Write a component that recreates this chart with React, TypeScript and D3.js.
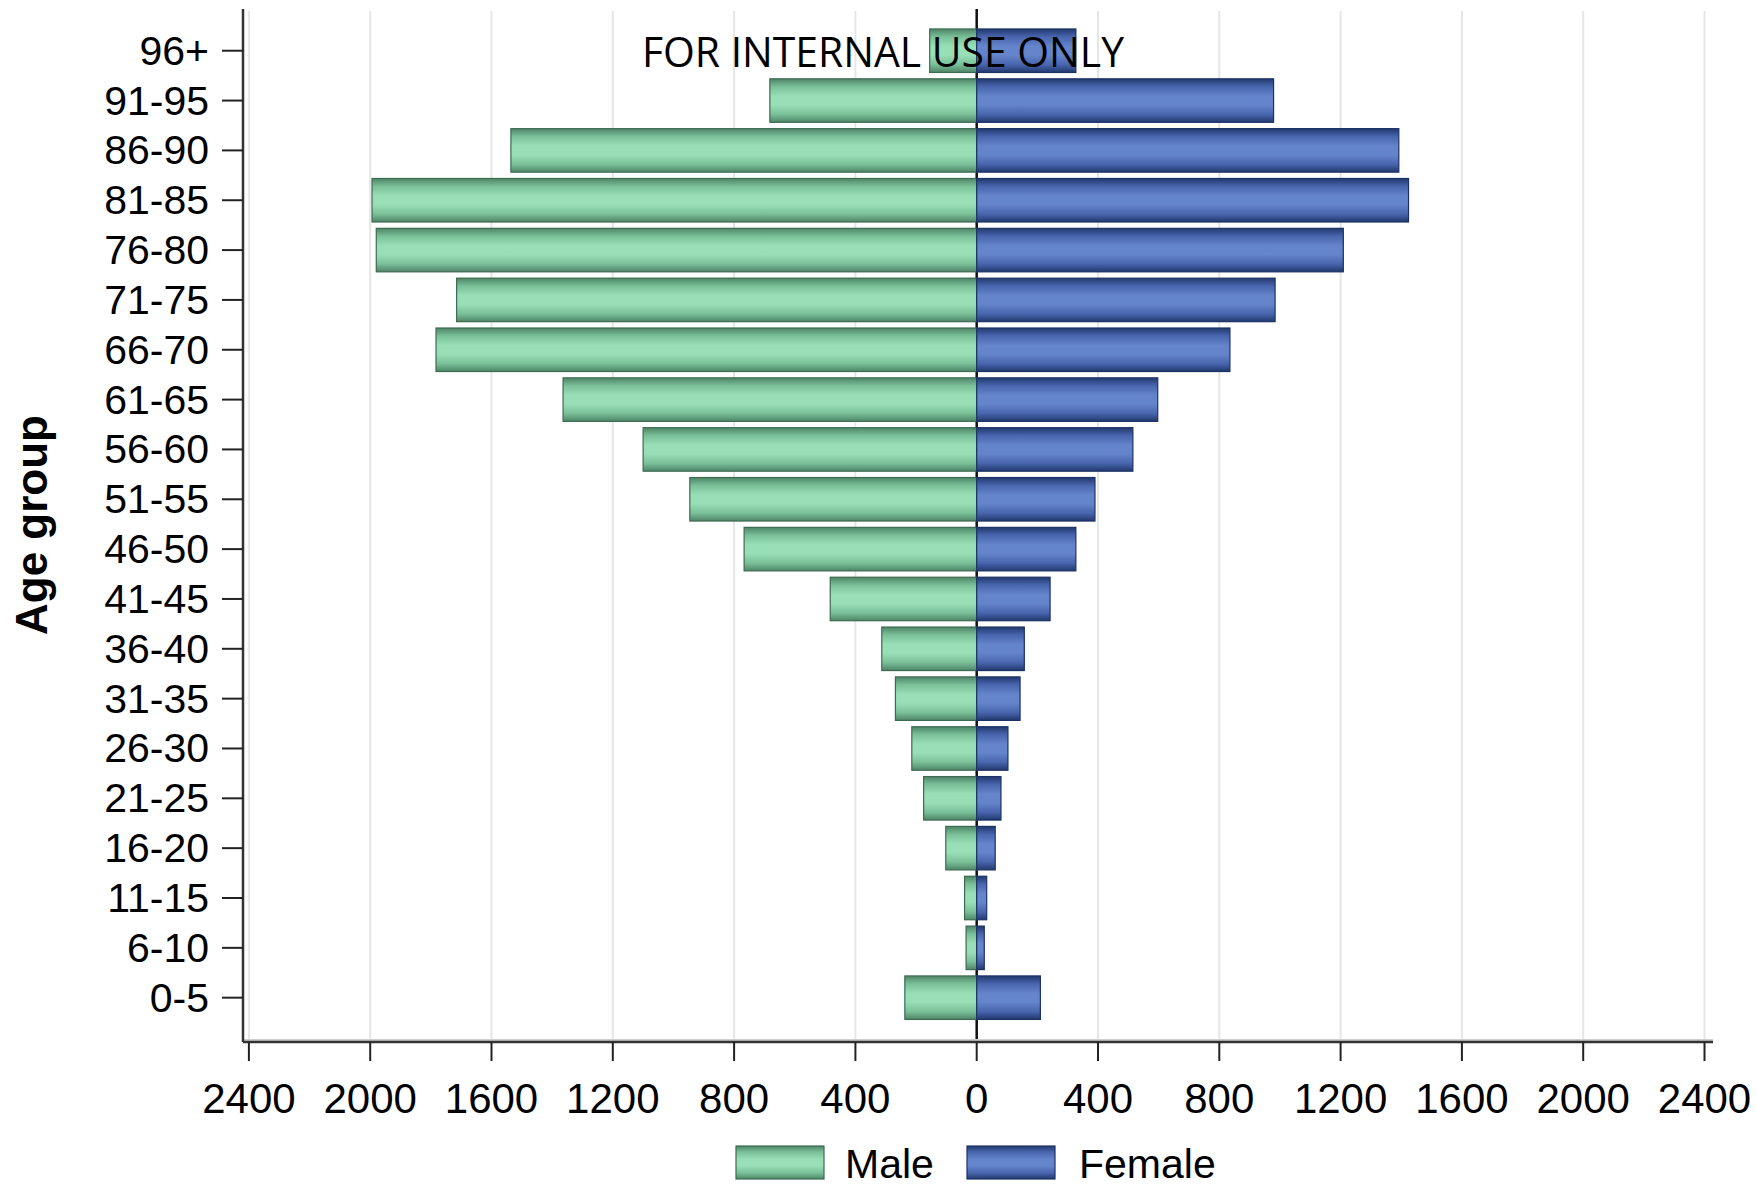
import React from "react";
import * as d3 from "d3";

const ageGroups = ["0-5","6-10","11-15","16-20","21-25","26-30","31-35","36-40","41-45","46-50","51-55","56-60","61-65","66-70","71-75","76-80","81-85","86-90","91-95","96+"];
const maleValues = [237,35,40,102,175,214,268,313,483,767,946,1100,1364,1783,1715,1980,1994,1536,682,155];
const femaleValues = [210,25,33,61,80,103,143,157,242,327,390,515,597,835,984,1209,1424,1392,979,327];
const xTickValues = [-2400,-2000,-1600,-1200,-800,-400,0,400,800,1200,1600,2000,2400];
const seriesNames = ["Male","Female"];
const yTitle = "Age group";
const watermark = "FOR INTERNAL USE ONLY";

const W = 1757, H = 1187;
const plotLeft = 243, plotRight = 1713, plotTop = 9, plotBottom = 1042;
const FONT = "'Liberation Sans', Arial, Helvetica, sans-serif";

export default function App() {
  const x = d3.scaleLinear().domain([-2400, 2400]).range([248.9, 1704.5]);
  const y = d3.scaleBand<string>()
    .domain([...ageGroups].reverse())
    .range([25.8, 1022.6])
    .paddingInner(0.127)
    .paddingOuter(0.0635);
  const bw = y.bandwidth();
  const x0 = x(0);

  return (
    <svg width={W} height={H} style={{ position: "absolute", left: 0, top: 0, display: "block", background: "#fff" }}>
      <defs>
        <linearGradient id="gMale" x1="0" y1="0" x2="0" y2="1">
          <stop offset="0%" stopColor="#4e8567" />
          <stop offset="18%" stopColor="#79bf98" />
          <stop offset="40%" stopColor="#98dfb8" />
          <stop offset="60%" stopColor="#98dfb8" />
          <stop offset="82%" stopColor="#79bf98" />
          <stop offset="100%" stopColor="#4e8567" />
        </linearGradient>
        <linearGradient id="gFemale" x1="0" y1="0" x2="0" y2="1">
          <stop offset="0%" stopColor="#22396e" />
          <stop offset="18%" stopColor="#4865ad" />
          <stop offset="40%" stopColor="#6484cc" />
          <stop offset="60%" stopColor="#6484cc" />
          <stop offset="82%" stopColor="#4865ad" />
          <stop offset="100%" stopColor="#22396e" />
        </linearGradient>
      </defs>

      {xTickValues.map((v) => (
        <line key={"g" + v} x1={x(v)} x2={x(v)} y1={plotTop + 2} y2={plotBottom} stroke="#e6e6e6" strokeWidth={2} />
      ))}

      <line x1={x0} x2={x0} y1={plotTop} y2={plotBottom} stroke="#111" strokeWidth={2.5} />

      {ageGroups.map((g, i) => {
        const yy = y(g) as number;
        const xm = x(-maleValues[i]);
        const xf = x(femaleValues[i]);
        return (
          <g key={g}>
            <rect x={xm} y={yy} width={x0 - xm} height={bw} fill="url(#gMale)" stroke="#3c6b51" strokeWidth={1.2} />
            <rect x={x0} y={yy} width={xf - x0} height={bw} fill="url(#gFemale)" stroke="#1c3266" strokeWidth={1.2} />
          </g>
        );
      })}

      <line x1={plotLeft} x2={plotRight} y1={plotBottom - 2} y2={plotBottom - 2} stroke="#cfcfcf" strokeWidth={2} />
      <line x1={plotLeft} x2={plotRight} y1={plotBottom} y2={plotBottom} stroke="#333" strokeWidth={2.5} />
      <line x1={plotLeft} x2={plotLeft} y1={plotTop} y2={plotBottom} stroke="#333" strokeWidth={2.5} />

      {xTickValues.map((v) => (
        <g key={"t" + v}>
          <line x1={x(v)} x2={x(v)} y1={plotBottom} y2={plotBottom + 19} stroke="#222" strokeWidth={2} />
          <text x={x(v)} y={1113} textAnchor="middle" fontFamily={FONT} fontSize={42} fill="#000">
            {Math.abs(v)}
          </text>
        </g>
      ))}

      {ageGroups.map((g) => {
        const cy = (y(g) as number) + bw / 2;
        return (
          <g key={"yt" + g}>
            <line x1={222} x2={plotLeft} y1={cy} y2={cy} stroke="#222" strokeWidth={2} />
            <text x={209} y={cy + 14} textAnchor="end" fontFamily={FONT} fontSize={41} fill="#000">
              {g}
            </text>
          </g>
        );
      })}

      <text transform={`translate(47,525) rotate(-90)`} textAnchor="middle" fontFamily={FONT} fontSize={44} fontWeight="bold" fill="#000">
        {yTitle}
      </text>

      <rect x={736} y={1146} width={88} height={33} fill="url(#gMale)" stroke="#3c6b51" strokeWidth={1.2} />
      <text x={845} y={1178} fontFamily={FONT} fontSize={41} fill="#000">{seriesNames[0]}</text>
      <rect x={967} y={1146} width={88} height={33} fill="url(#gFemale)" stroke="#1c3266" strokeWidth={1.2} />
      <text x={1079} y={1178} fontFamily={FONT} fontSize={41} fill="#000">{seriesNames[1]}</text>

      <text x={642} y={66.5} fontFamily="'Open Sans', 'Noto Sans', sans-serif" fontSize={42} fill="#000" textLength={482} lengthAdjust="spacingAndGlyphs">
        {watermark}
      </text>
    </svg>
  );
}
